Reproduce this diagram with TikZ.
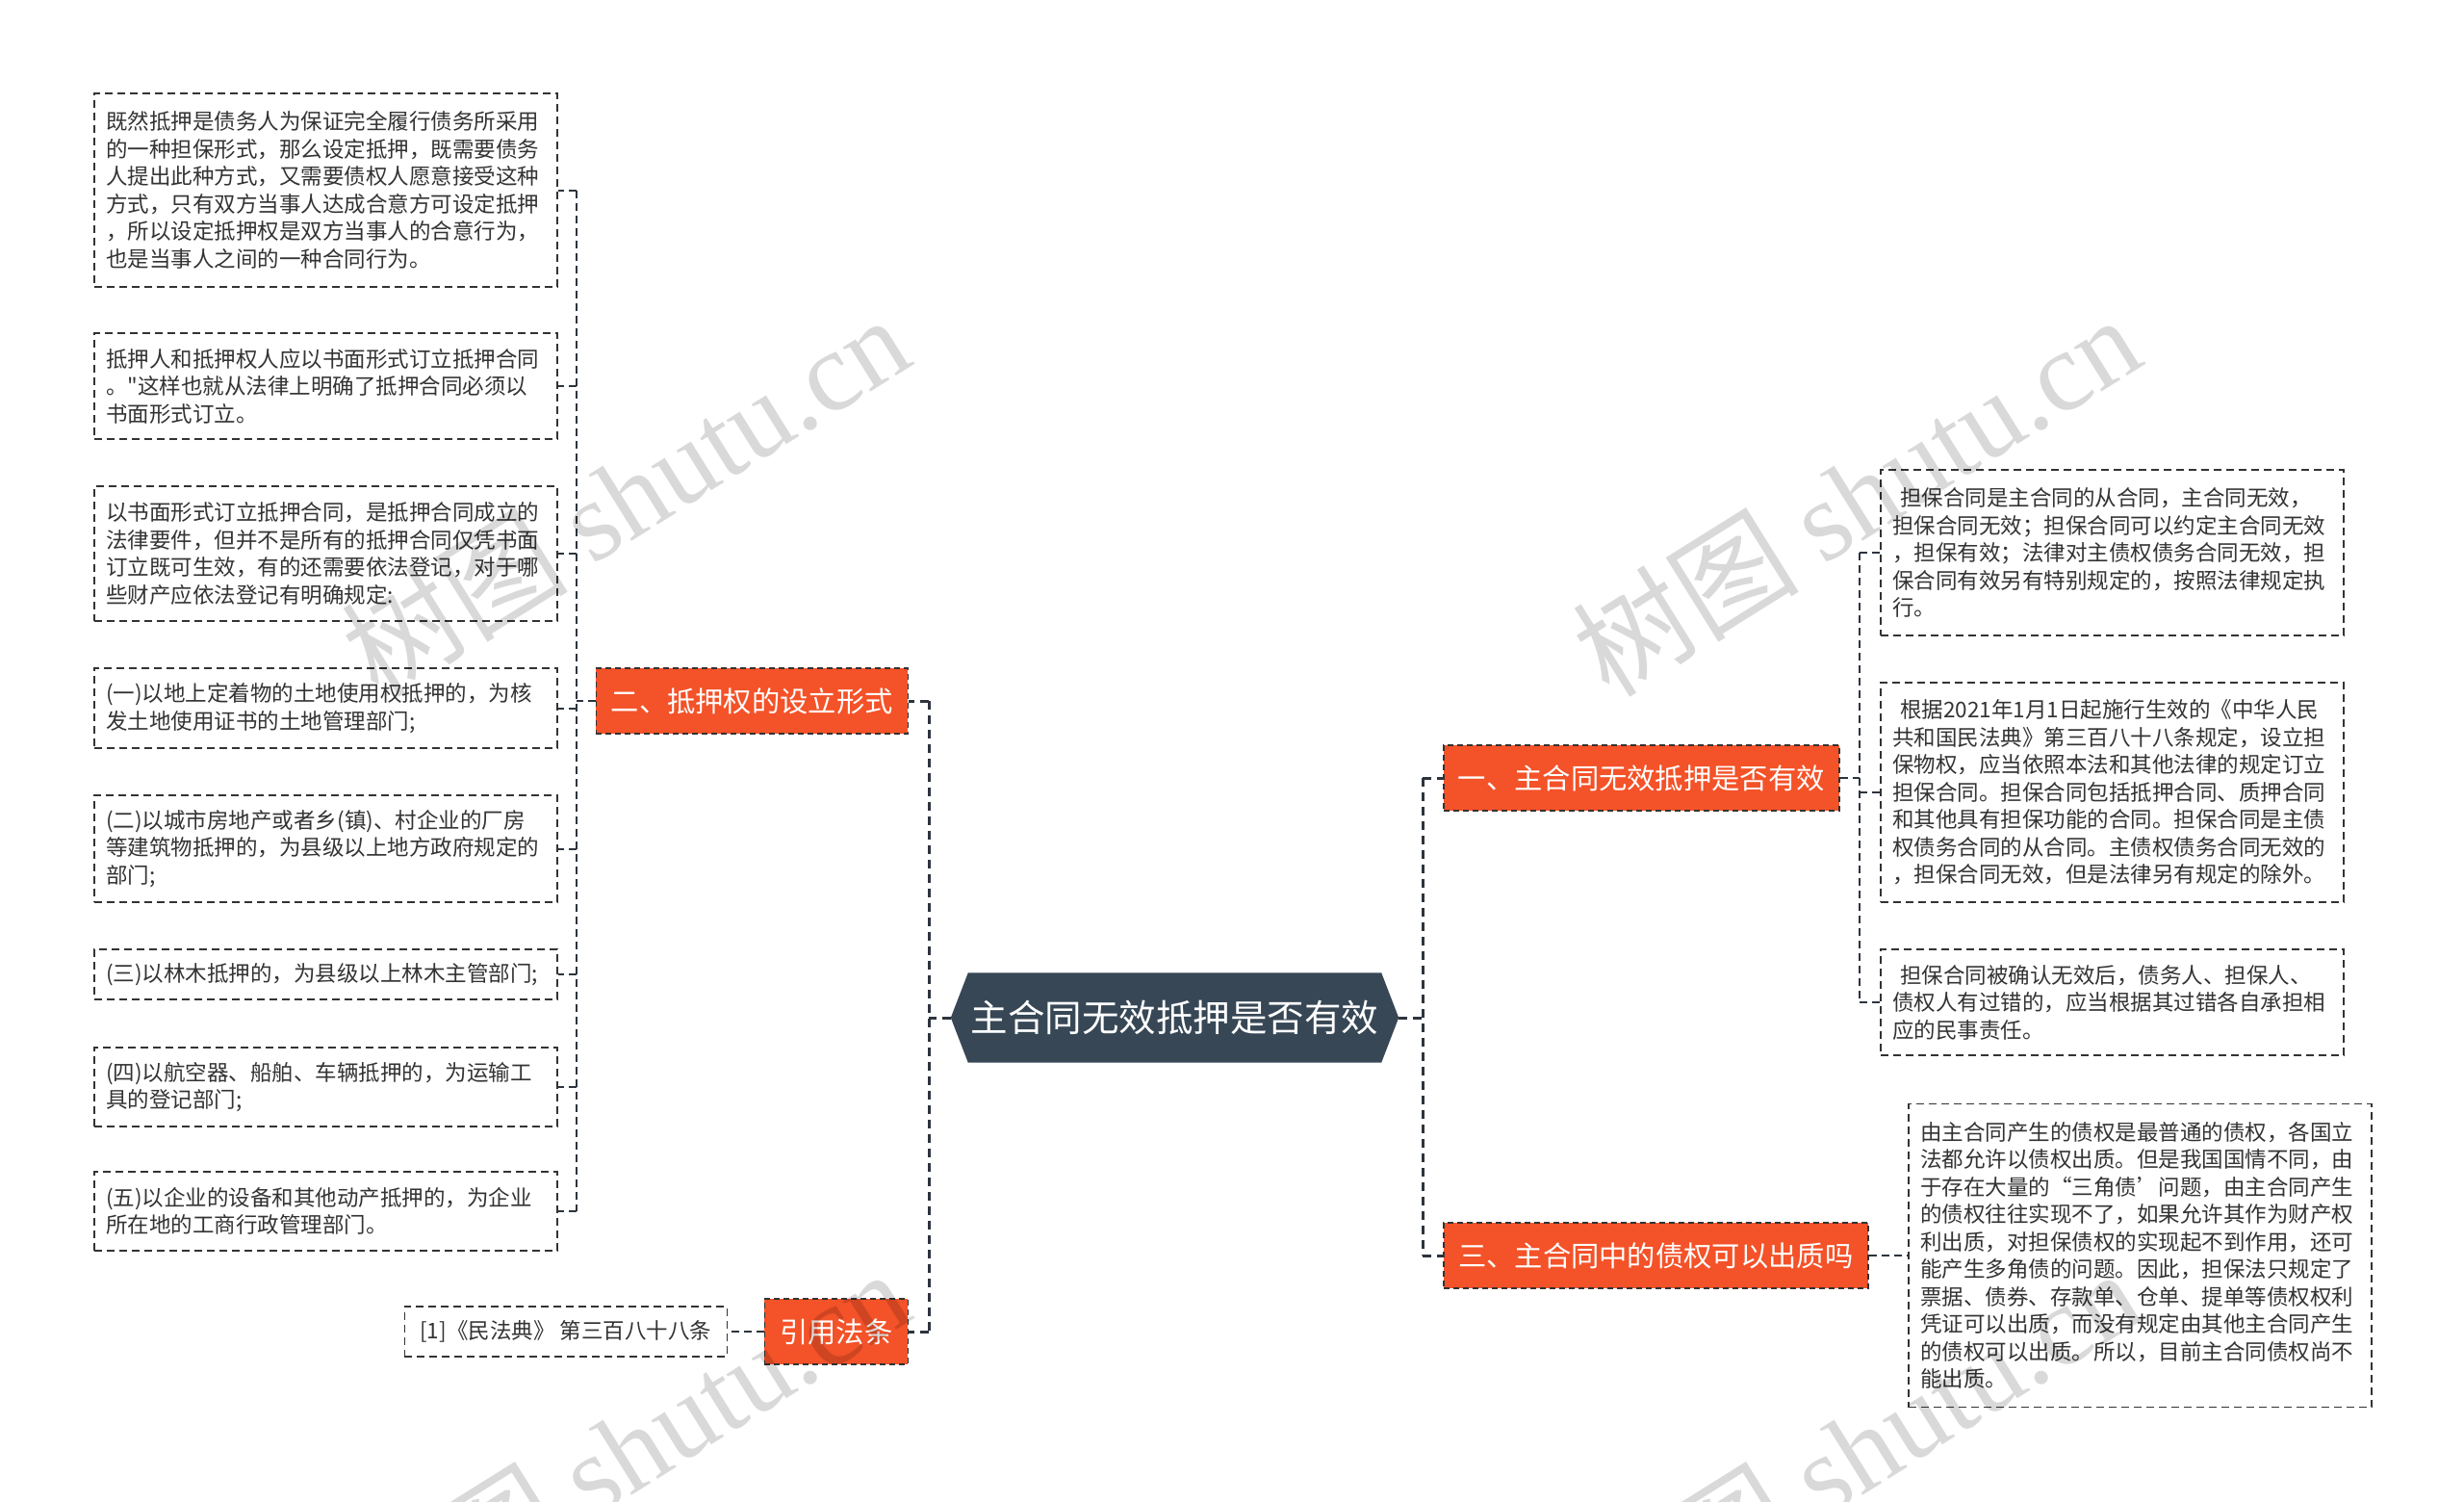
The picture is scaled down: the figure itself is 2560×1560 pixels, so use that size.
\documentclass[tikz,border=0pt]{standalone}
\usepackage{fontspec}
\setmainfont{Noto Sans CJK SC}[Ligatures=TeXOff]
\newfontfamily\wmlat{Liberation Serif}
\pgfdeclarelayer{bg}
\pgfsetlayers{bg,main}
\definecolor{hexc}{RGB}{55,71,86}
\definecolor{brc}{RGB}{244,82,40}
\definecolor{ink}{RGB}{51,51,51}
\definecolor{lnk}{RGB}{45,52,62}
\begin{document}
\begin{tikzpicture}[x=1pt,y=-1pt,
  leaf/.style={draw=ink, line width=1.5pt, dash pattern=on 8pt off 5pt, text=ink, align=left,
    text width=456pt, inner xsep=12.5pt, inner ysep=3pt, minimum width=481pt,
    font=\fontsize{22.5}{28.5}\selectfont},
  branch/.style={fill=brc, draw=ink, line width=1.5pt, dash pattern=on 6pt off 4pt, text=white,
    font=\fontsize{29.3}{34}\selectfont, minimum height=68pt, inner xsep=0pt},
  conn/.style={draw=lnk, line width=2pt, dash pattern=on 8pt off 5pt},
  mconn/.style={draw=lnk, line width=3pt, dash pattern=on 9pt off 6pt},
  wm/.style={text=black, opacity=0.15, font=\fontsize{118}{130}\selectfont, inner sep=0pt}
]
\useasboundingbox (0,0) rectangle (2560,1560);
\begin{pgfonlayer}{bg}
\fill[white] (0,0) rectangle (2560,1560);
\end{pgfonlayer}

% central topic
\node[text=white, font=\fontsize{38.5}{44}\selectfont, minimum width=465pt, minimum height=93pt, inner sep=0pt] (c) at (1220.5,1057) {主合同无效抵押是否有效};
\begin{pgfonlayer}{bg}
\fill[hexc] (c.west) -- ([xshift=18pt]c.north west) -- ([xshift=-18pt]c.north east) -- (c.east) -- ([xshift=-18pt]c.south east) -- ([xshift=18pt]c.south west) -- cycle;
\end{pgfonlayer}

% branches
\node[branch, minimum width=411pt, anchor=west] (b1) at (1499,808) {一、主合同无效抵押是否有效};
\node[branch, minimum width=441pt, anchor=west] (b3) at (1499,1304) {三、主合同中的债权可以出质吗};
\node[branch, minimum width=324pt, anchor=east] (b2) at (944,728) {二、抵押权的设立形式};
\node[branch, minimum width=149pt, anchor=east] (b4) at (944,1383) {引用法条};

% left leaves
\node[leaf, minimum height=201pt, anchor=west] (L1) at (97,197.5) {既然抵押是债务人为保证完全履行债务所采用\\的一种担保形式，那么设定抵押，既需要债务\\人提出此种方式，又需要债权人愿意接受这种\\方式，只有双方当事人达成合意方可设定抵押\\，所以设定抵押权是双方当事人的合意行为，\\也是当事人之间的一种合同行为。};
\node[leaf, minimum height=110pt, anchor=west] (L2) at (97,401) {抵押人和抵押权人应以书面形式订立抵押合同\\。"这样也就从法律上明确了抵押合同必须以\\书面形式订立。};
\node[leaf, minimum height=140pt, anchor=west] (L3) at (97,575) {以书面形式订立抵押合同，是抵押合同成立的\\法律要件，但并不是所有的抵押合同仅凭书面\\订立既可生效，有的还需要依法登记，对于哪\\些财产应依法登记有明确规定:};
\node[leaf, minimum height=83pt, anchor=west] (L4) at (97,735.5) {(一)以地上定着物的土地使用权抵押的，为核\\发土地使用证书的土地管理部门;};
\node[leaf, minimum height=111pt, anchor=west] (L5) at (97,881.5) {(二)以城市房地产或者乡(镇)、村企业的厂房\\等建筑物抵押的，为县级以上地方政府规定的\\部门;};
\node[leaf, minimum height=52pt, anchor=west] (L6) at (97,1012) {(三)以林木抵押的，为县级以上林木主管部门;};
\node[leaf, minimum height=82pt, anchor=west] (L7) at (97,1129) {(四)以航空器、船舶、车辆抵押的，为运输工\\具的登记部门;};
\node[leaf, minimum height=82pt, anchor=west] (L8) at (97,1258) {(五)以企业的设备和其他动产抵押的，为企业\\所在地的工商行政管理部门。};

% citation
\node[leaf, text width=, minimum width=335pt, minimum height=52pt, anchor=east] (cite) at (756,1383) {[1]《民法典》 第三百八十八条};

% right leaves
\node[leaf, minimum height=172pt, anchor=west] (R1) at (1953,574) {\hspace*{8pt}担保合同是主合同的从合同，主合同无效，\\担保合同无效；担保合同可以约定主合同无效\\，担保有效；法律对主债权债务合同无效，担\\保合同有效另有特别规定的，按照法律规定执\\行。};
\node[leaf, minimum height=228pt, anchor=west] (R2) at (1953,823) {\hspace*{8pt}根据2021年1月1日起施行生效的《中华人民\\共和国民法典》第三百八十八条规定，设立担\\保物权，应当依照本法和其他法律的规定订立\\担保合同。担保合同包括抵押合同、质押合同\\和其他具有担保功能的合同。担保合同是主债\\权债务合同的从合同。主债权债务合同无效的\\，担保合同无效，但是法律另有规定的除外。};
\node[leaf, minimum height=110pt, anchor=west] (R3) at (1953,1041) {\hspace*{8pt}担保合同被确认无效后，债务人、担保人、\\债权人有过错的，应当根据其过错各自承担相\\应的民事责任。};
\node[leaf, minimum height=315pt, anchor=west] (R4) at (1982,1304) {由主合同产生的债权是最普通的债权，各国立\\法都允许以债权出质。但是我国国情不同，由\\于存在大量的“三角债’问题，由主合同产生\\的债权往往实现不了，如果允许其作为财产权\\利出质，对担保债权的实现起不到作用，还可\\能产生多角债的问题。因此，担保法只规定了\\票据、债券、存款单、仓单、提单等债权权利\\凭证可以出质，而没有规定由其他主合同产生\\的债权可以出质。所以，目前主合同债权尚不\\能出质。};

% central connectors
\coordinate (rh) at (1478,1057);
\coordinate (lh) at (965,1057);
\draw[mconn] (c.east) -- (rh);
\draw[mconn] (rh |- b1.west) -- (rh |- b3.west);
\draw[mconn] (rh |- b1.west) -- (b1.west);
\draw[mconn] (rh |- b3.west) -- (b3.west);
\draw[mconn] (c.west) -- (lh);
\draw[mconn] (lh |- b2.east) -- (lh |- b4.east);
\draw[mconn] (lh |- b2.east) -- (b2.east);
\draw[mconn] (lh |- b4.east) -- (b4.east);

% branch 2 to left leaves
\coordinate (h2) at (599,728);
\draw[conn] (b2.west) -- (h2);
\draw[conn] (h2 |- L1.east) -- (h2 |- L8.east);
\foreach \n in {L1,L2,L3,L4,L5,L6,L7,L8} {\draw[conn] (h2 |- \n.east) -- (\n.east);}

% branch 4 to citation
\draw[conn] (b4.west) -- (cite.east);

% branch 1 to right leaves
\coordinate (h1) at (1932,808);
\draw[conn] (b1.east) -- (h1);
\draw[conn] (h1 |- R1.west) -- (h1 |- R3.west);
\foreach \n in {R1,R2,R3} {\draw[conn] (h1 |- \n.west) -- (\n.west);}

% branch 3 to R4
\draw[conn] (b3.east) -- (R4.west);

% watermarks
\node[wm, rotate=32] (wm1) at (649,514) {树图 {\wmlat shutu.cn}};
\node[wm, rotate=32] (wm2) at (1928,514) {树图 {\wmlat shutu.cn}};
\node[wm, rotate=32] (wm3) at (649,1505) {树图 {\wmlat shutu.cn}};
\node[wm, rotate=32] (wm4) at (1928,1505) {树图 {\wmlat shutu.cn}};
\end{tikzpicture}
\end{document}
